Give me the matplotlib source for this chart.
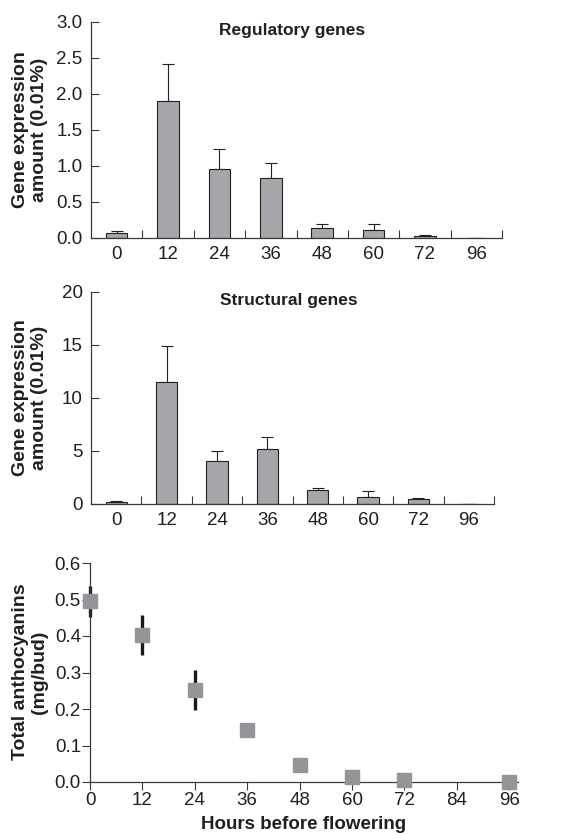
import numpy as np
import matplotlib
matplotlib.use("Agg")
import matplotlib.pyplot as plt

# data
hours_cat = ["0", "12", "24", "36", "48", "60", "72", "96"]
reg_mean = [0.069, 1.90, 0.957, 0.832, 0.143, 0.106, 0.023, 0.005]
reg_err = [0.028, 0.52, 0.277, 0.213, 0.047, 0.093, 0.014, 0.0]
str_mean = [0.22, 11.53, 4.06, 5.17, 1.29, 0.69, 0.44, 0.03]
str_err = [0.06, 3.34, 0.94, 1.13, 0.25, 0.54, 0.10, 0.0]
antho_hours = [0, 12, 24, 36, 48, 60, 72, 96]
antho_mean = [0.496, 0.403, 0.252, 0.142, 0.047, 0.015, 0.005, 0.0]
antho_err_lo = [0.044, 0.054, 0.055, 0.015, 0.0, 0.0, 0.0, 0.0]
antho_err_hi = [0.042, 0.055, 0.054, 0.020, 0.0, 0.0, 0.0, 0.0]

plt.rcParams["font.family"] = ["Liberation Sans", "DejaVu Sans"]
TXT = "#231f20"
AX = "#3a3a3a"
BAR = "#a5a7aa"
MK = "#939598"

W, H = 575, 835
fig = plt.figure(figsize=(W / 100, H / 100), dpi=100)


def rect(l, r, t, b):
    return [l / W, 1 - b / H, (r - l) / W, (b - t) / H]


def bar_panel(ax, vals, errs, ymax, yticks, yfmt, title):
    x = np.arange(len(vals))
    ax.bar(x, vals, width=0.42, color=BAR, edgecolor="#222", linewidth=0.8, zorder=2)
    ax.errorbar(x, vals, yerr=[np.zeros(len(errs)), errs], fmt="none", ecolor="#222",
                elinewidth=0.8, capsize=4, capthick=0.8, zorder=1)
    ax.set_xlim(-0.5, len(vals) - 0.5)
    ax.set_ylim(0, ymax)
    ax.set_yticks(yticks)
    ax.set_yticklabels([yfmt.format(v) for v in yticks])
    ax.set_xticks(x)
    ax.set_xticklabels(hours_cat)
    ax.set_xticks(np.arange(len(vals)) + 0.5, minor=True)
    ax.tick_params(axis="x", which="major", length=0, pad=6, labelsize=13.5, labelcolor=TXT)
    ax.tick_params(axis="x", which="minor", direction="in", length=6, width=0.8, color=AX)
    ax.tick_params(axis="y", direction="in", length=6, width=0.8, color=AX, pad=6,
                   labelsize=13.5, labelcolor=TXT)
    for s in ("top", "right"):
        ax.spines[s].set_visible(False)
    for s in ("left", "bottom"):
        ax.spines[s].set_color(AX)
        ax.spines[s].set_linewidth(0.9)
    ax.text(0.49, 0.96, title, transform=ax.transAxes, ha="center", va="center",
            fontsize=12.5, fontweight="bold", color=TXT)


ax1 = fig.add_axes(rect(91, 502, 22, 238))
bar_panel(ax1, reg_mean, reg_err, 3.0, [0, 0.5, 1.0, 1.5, 2.0, 2.5, 3.0], "{:.1f}", "Regulatory genes")
fig.text(30 / W, 1 - 130 / H, "Gene expression\namount (0.01%)", rotation=90, ha="center",
         va="center", fontsize=14, fontweight="bold", color=TXT, linespacing=1.15)

ax2 = fig.add_axes(rect(91, 494, 292, 504))
bar_panel(ax2, str_mean, str_err, 20, [0, 5, 10, 15, 20], "{:d}", "Structural genes")
fig.text(30 / W, 1 - 398 / H, "Gene expression\namount (0.01%)", rotation=90, ha="center",
         va="center", fontsize=14, fontweight="bold", color=TXT, linespacing=1.15)

ax3 = fig.add_axes(rect(90, 518, 563, 782))
ax3.errorbar(antho_hours, antho_mean, yerr=[antho_err_lo, antho_err_hi], fmt="none",
             ecolor="#1a1a1a", elinewidth=2.4, capsize=0, zorder=2, clip_on=False)
ax3.plot(antho_hours, antho_mean, "s", color=MK, markersize=9.5, zorder=3, clip_on=False)
ax3.set_xlim(0, 98)
ax3.set_ylim(0, 0.6)
ax3.set_xticks(np.arange(0, 97, 12))
ax3.set_yticks([0, 0.1, 0.2, 0.3, 0.4, 0.5, 0.6])
ax3.set_yticklabels(["0.0", "0.1", "0.2", "0.3", "0.4", "0.5", "0.6"])
ax3.tick_params(direction="out", length=6, width=0.8, color=AX, labelsize=13.5,
                labelcolor=TXT)
ax3.tick_params(axis="y", pad=0.5)
ax3.tick_params(axis="x", pad=1.5)
for s in ("top", "right"):
    ax3.spines[s].set_visible(False)
for s in ("left", "bottom"):
    ax3.spines[s].set_color(AX)
    ax3.spines[s].set_linewidth(0.9)
ax3.set_xlabel("Hours before flowering", fontsize=13.5, fontweight="bold", color=TXT, labelpad=5)
fig.text(30 / W, 1 - 672 / H, "Total anthocyanins\n(mg/bud)", rotation=90, ha="center",
         va="center", fontsize=14, fontweight="bold", color=TXT, linespacing=1.15)

fig.savefig("out.png", dpi=100)
